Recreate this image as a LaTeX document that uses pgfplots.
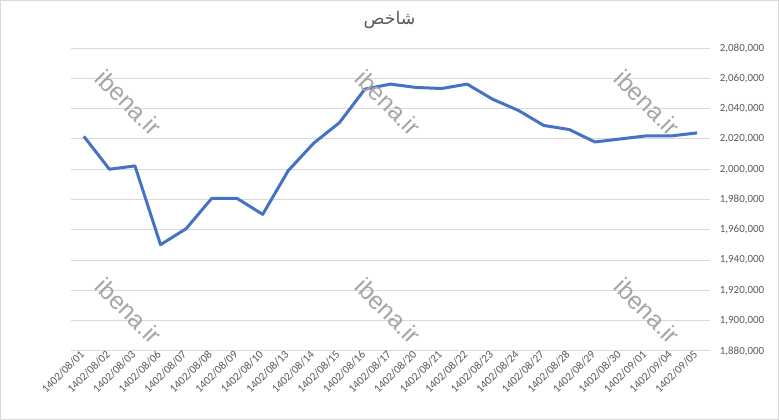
\documentclass[border=0pt]{standalone}
\usepackage{fontspec}
\setmainfont{Carlito}
\newfontfamily\arabicfont[Script=Arabic]{DejaVu Sans}
\newfontfamily\wmfont{Liberation Sans}
\TeXXeTstate=1
\usepackage{pgfplots}
\usepackage{pgfplotstable}
\pgfplotsset{compat=1.18}

\definecolor{linebl}{HTML}{4472C4}
\definecolor{gridc}{HTML}{D9D9D9}
\definecolor{txt}{HTML}{595959}
\definecolor{wm}{HTML}{A6A6A6}

% index, date, index value
\pgfplotstableread{
idx date value
0 1402/08/01 2021700
1 1402/08/02 2000000
2 1402/08/03 2002200
3 1402/08/06 1950200
4 1402/08/07 1960700
5 1402/08/08 1980700
6 1402/08/09 1980700
7 1402/08/10 1970200
8 1402/08/13 1999100
9 1402/08/14 2017300
10 1402/08/15 2030700
11 1402/08/16 2052900
12 1402/08/17 2056200
13 1402/08/20 2054000
14 1402/08/21 2053300
15 1402/08/22 2056200
16 1402/08/23 2046200
17 1402/08/24 2038900
18 1402/08/27 2028900
19 1402/08/28 2026200
20 1402/08/29 2018000
21 1402/08/30 2020000
22 1402/09/01 2022000
23 1402/09/04 2022000
24 1402/09/05 2024000
}\datatable

\begin{document}
\begin{tikzpicture}
  % chart frame
  \draw[gridc, line width=0.75pt] (0.6pt,0.6pt) rectangle (583.6pt,314.4pt);

  \begin{axis}[
    at={(53.5pt,51.75pt)}, anchor=south west,
    scale only axis, width=478.65pt, height=227pt,
    xmin=-0.5, xmax=24.5,
    ymin=1880000, ymax=2080000,
    ytick distance=20000,
    xtick={0,...,24},
    xticklabels from table={\datatable}{date},
    yticklabel pos=right,
    axis line style={draw=none},
    major tick length=0pt,
    ymajorgrids, grid style={gridc, line width=0.75pt},
    scaled y ticks=false,
    /pgf/number format/fixed,
    /pgf/number format/precision=0,
    /pgf/number format/1000 sep={,},
    /pgf/number format/assume math mode=true,
    yticklabel style={font=\fontsize{8.2}{10}\selectfont, text=txt, xshift=4pt},
    xticklabel style={font=\fontsize{8.5}{10}\selectfont, text=txt, rotate=45, anchor=east, xshift=2pt},
    clip=false,
  ]
    \addplot[linebl, line width=2.25pt, line join=round] table[x=idx, y=value] {\datatable};
  \end{axis}

  % title
  \node[text=txt, font=\fontsize{13}{15}\arabicfont] at (292.1pt,300pt) {\beginR شاخص\endR};

  % watermarks
  \foreach \wx in {96.75pt,291pt,485.25pt}{
    \foreach \wy in {237.75pt,81.75pt}{
      \node[text=wm, rotate=-45, font=\fontsize{18.5}{22}\wmfont] at (\wx,\wy) {ibena.ir};
    }
  }
\end{tikzpicture}
\end{document}
